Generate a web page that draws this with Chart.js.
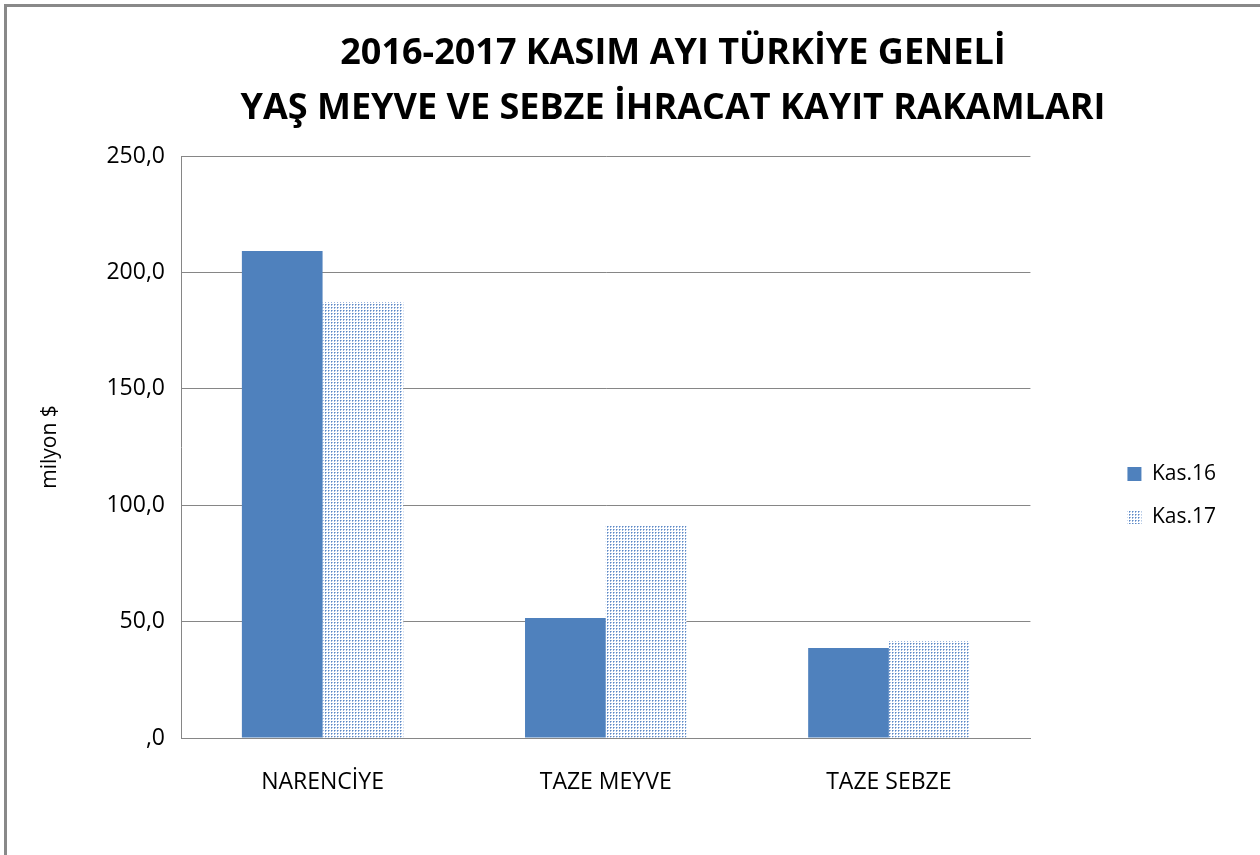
<!DOCTYPE html>
<html>
<head>
<meta charset="utf-8">
<script src="https://cdn.jsdelivr.net/npm/chart.js@4/dist/chart.umd.min.js"></script>
<style>
  html, body { margin:0; padding:0; background:#fff; width:1260px; height:855px; overflow:hidden; }
  #frame { position:absolute; left:4px; top:4px; width:1254px; height:860px;
           border-top:3px solid #898989; border-left:3px solid #898989; border-right:1px solid #b0b0b0; }
  #title { position:absolute; left:173px; top:23px; width:1000px; text-align:center;
           font-family:"Open Sans", sans-serif; font-weight:700; font-size:36px; line-height:55px;
           color:#000; white-space:nowrap; }
  #wrap { position:absolute; left:7px; top:7px; width:1252px; height:848px; }
</style>
</head>
<body>
<div id="frame"></div>
<div id="wrap"><canvas id="chart" width="1252" height="848"></canvas></div>
<div id="title">2016-2017 KASIM AYI TÜRKİYE GENELİ<br>YAŞ MEYVE VE SEBZE İHRACAT KAYIT RAKAMLARI</div>
<script>
const categories = ['NARENCİYE', 'TAZE MEYVE', 'TAZE SEBZE'];
const kas16 = [209.2, 51.5, 38.7];
const kas17 = [187.3, 91.1, 41.7];
const seriesNames = ['Kas.16', 'Kas.17'];
const yTicks = [0, 50, 100, 150, 200, 250];

const FONT = '"Open Sans", sans-serif';
const GRID = '#868686';

// dotted fill like the Excel pattern
function dotPattern(){
  const c = document.createElement('canvas');
  c.width = 3; c.height = 3;
  const g = c.getContext('2d');
  g.fillStyle = '#ffffff'; g.fillRect(0,0,3,3);
  g.fillStyle = '#5b89c4'; g.fillRect(0,0,1,1);
  g.fillStyle = '#9bb5de'; g.fillRect(0,1,1,1);
  g.fillStyle = '#a8bfe3'; g.fillRect(1,0,1,1);
  return g.createPattern(c, 'repeat');
}

const fmt = v => v === 0 ? ',0' : v.toFixed(1).replace('.', ',');

new Chart(document.getElementById('chart'), {
  type: 'bar',
  data: {
    labels: categories,
    datasets: [
      { label: seriesNames[0], data: kas16, backgroundColor: '#4f81bd', borderWidth: 0 },
      { label: seriesNames[1], data: kas17, backgroundColor: dotPattern(), borderWidth: 0 }
    ]
  },
  options: {
    responsive: false,
    animation: false,
    categoryPercentage: 0.57,
    barPercentage: 1,
    layout: { padding: { top: 149, left: 20, right: 33, bottom: 20 } },
    plugins: {
      title: { display: false },
      tooltip: { enabled: false },
      legend: {
        position: 'right',
        labels: { font: { family: FONT, size: 21 }, color: '#000', boxWidth: 14, boxHeight: 14, padding: 22 }
      }
    },
    scales: {
      x: {
        grid: { display: false },
        border: { display: true, color: GRID, width: 1 },
        ticks: { font: { family: FONT, size: 23 }, color: '#000', padding: 23 },
        afterFit: s => { s.height = 97; }
      },
      y: {
        min: 0, max: 250,
        afterBuildTicks: s => { s.ticks = yTicks.map(v => ({ value: v })); },
        grid: { color: GRID, lineWidth: 1, drawTicks: false },
        border: { display: true, color: GRID, width: 1 },
        ticks: { font: { family: FONT, size: 23 }, color: '#000', padding: 16, callback: v => fmt(v) },
        title: { display: true, text: 'milyon $', font: { family: FONT, size: 21 }, color: '#000', padding: { top: 10, bottom: 0 } },
        afterFit: s => { s.width = 154; }
      },
      gap: {
        type: 'linear', position: 'right', display: true,
        grid: { display: false }, border: { display: false }, ticks: { display: false },
        afterFit: s => { s.width = 75; }
      }
    }
  }
});
</script>
</body>
</html>
